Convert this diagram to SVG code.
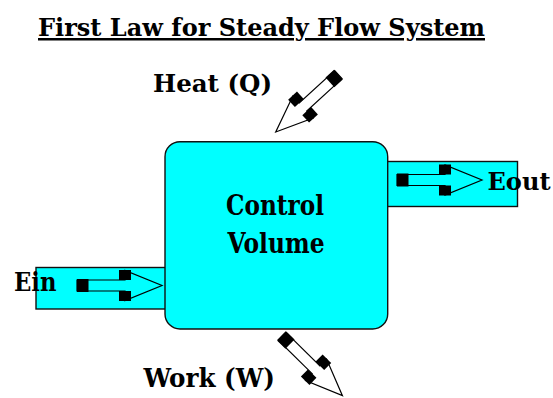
<svg xmlns="http://www.w3.org/2000/svg" xmlns:xlink="http://www.w3.org/1999/xlink" width="553" height="398" viewBox="0 0 553 398">
<style>
  text { font-family: 'DejaVu Serif', 'Liberation Serif', serif; font-weight: 700; fill: #000; }
  .box { fill: #00FFFF; stroke: #111; stroke-width: 1.4; }
  .arrow-outline { fill: none; stroke: #000; stroke-width: 1.2; stroke-linejoin: miter; }
  .handle { fill: #000; }
</style>
<defs>
  <g id="blockArrow">
    <path class="arrow-outline" d="M0,-5.5 H48 V-15 L85,0 L48,15 V5.5 H0 Z"/>
    <rect class="handle" x="0" y="-6.5" width="11.5" height="13"/>
    <rect class="handle" x="42" y="-15.5" width="12" height="10"/>
    <rect class="handle" x="42" y="5.5" width="12" height="10"/>
  </g>
</defs>
<rect width="553" height="398" fill="#fff"/>

<g id="title">
  <text x="38" y="36" font-size="25" textLength="447" lengthAdjust="spacingAndGlyphs" text-decoration="underline">First Law for Steady Flow System</text>
</g>

<g id="ein-port">
  <rect class="box" x="36" y="267.5" width="130" height="41.5"/>
</g>
<g id="eout-port">
  <rect class="box" x="386" y="161.5" width="131.5" height="45"/>
</g>

<g id="control-volume">
  <rect class="box" x="165" y="141.7" width="222.7" height="187.3" rx="15" ry="15" stroke="#222" stroke-width="1.6"/>
  <text x="226" y="215" font-size="27" textLength="98" lengthAdjust="spacingAndGlyphs">Control</text>
  <text x="227.5" y="253" font-size="27" textLength="97" lengthAdjust="spacingAndGlyphs">Volume</text>
</g>

<g id="connectors">
  <use xlink:href="#blockArrow" transform="translate(77,285.5)"/>
  <use xlink:href="#blockArrow" transform="translate(397,180)"/>
  <use xlink:href="#blockArrow" transform="translate(338.4,74.6) rotate(137.5)"/>
  <use xlink:href="#blockArrow" transform="translate(281.8,336.1) rotate(44.5)"/>
</g>

<g id="labels">
  <text id="heat" x="153" y="92" font-size="25" textLength="119" lengthAdjust="spacingAndGlyphs">Heat (Q)</text>
  <text id="work" x="143.5" y="386.5" font-size="26" textLength="131.5" lengthAdjust="spacingAndGlyphs">Work (W)</text>
  <text id="ein" x="14" y="291" font-size="26" textLength="42.5" lengthAdjust="spacingAndGlyphs">Ein</text>
  <text id="eout" x="487.5" y="189.5" font-size="24" textLength="63" lengthAdjust="spacingAndGlyphs">Eout</text>
</g>
</svg>
